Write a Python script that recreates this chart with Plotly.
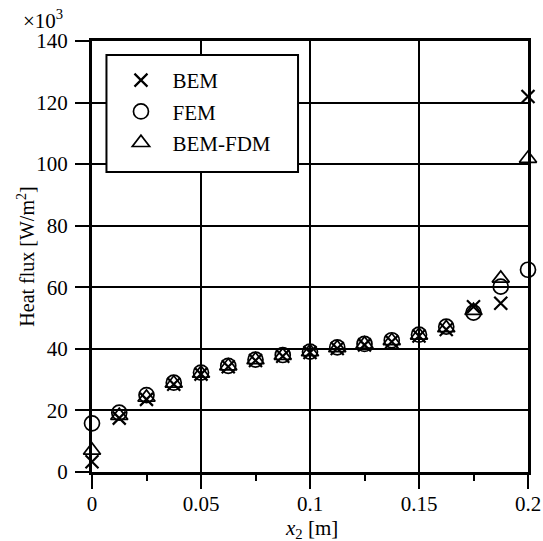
import plotly.graph_objects as go

x_m = [0, 0.0125, 0.025, 0.0375, 0.05, 0.0625, 0.075, 0.0875, 0.1,
       0.1125, 0.125, 0.1375, 0.15, 0.1625, 0.175, 0.1875, 0.2]
bem = [3.3, 17.5, 23.6, 28.5, 31.8, 34.2, 36.2, 37.6, 38.8,
       40.1, 41.3, 42.3, 44.2, 46.3, 53.7, 54.8, 122]
fem = [15.8, 19.3, 25.0, 29.0, 32.3, 34.5, 36.5, 38.0, 39.1,
       40.5, 41.6, 42.8, 44.6, 47.2, 51.8, 60.2, 65.7]
bem_fdm = [7.0, 18.3, 24.2, 28.8, 32.0, 34.4, 36.4, 37.8, 39.0,
           40.3, 41.5, 42.6, 44.4, 46.8, 52.4, 62.9, 101.8]
series_names = ["BEM", "FEM", "BEM-FDM"]
x_ticks = [0, 0.05, 0.1, 0.15, 0.2]
x_tick_text = ["0", "0.05", "0.1", "0.15", "0.2"]
y_ticks = [0, 20, 40, 60, 80, 100, 120, 140]

FONT = "Liberation Serif"
W, H = 543, 541
L, R, T, B = 91.5, 14.5, 41, 69
pw = W - L - R
ph = H - T - B
X_RANGE = [0, 0.2]


def px_x(p):
    return (p - L) / pw


def px_y(p):
    return (H - B - p) / ph


fig = go.Figure()
fig.add_trace(go.Scatter(x=x_m, y=bem, mode="markers", name=series_names[0],
                         cliponaxis=False, legendgroup="a",
                         marker=dict(symbol="x-thin-open", size=13, color="black",
                                     line=dict(width=2.2, color="black"))))
fig.add_trace(go.Scatter(x=x_m, y=fem, mode="markers", name=series_names[1],
                         cliponaxis=False, legendgroup="b",
                         marker=dict(symbol="circle-open", size=15, color="black",
                                     line=dict(width=1.7, color="black"))))
fig.add_trace(go.Scatter(x=x_m, y=bem_fdm, mode="markers", name=series_names[2],
                         cliponaxis=False, legendgroup="c", xaxis="x2",
                         marker=dict(symbol="triangle-up-open", size=15, color="black",
                                     line=dict(width=1.7, color="black"))))

fig.update_layout(
    width=W, height=H,
    margin=dict(l=L, r=R, t=T, b=B, autoexpand=False),
    paper_bgcolor="white", plot_bgcolor="white",
    font=dict(family=FONT, size=21, color="black"),
    showlegend=True,
    legend=dict(x=px_x(109), y=px_y(60), xanchor="left", yanchor="top",
                bgcolor="rgba(0,0,0,0)", borderwidth=0,
                font=dict(family=FONT, size=21, color="black"),
                itemwidth=53, tracegroupgap=1),
    # main x axis: grid, frame, major and minor ticks (no labels)
    xaxis=dict(range=X_RANGE, tickvals=x_ticks, showticklabels=False,
               showgrid=True, gridcolor="black", gridwidth=2,
               showline=True, linecolor="black", linewidth=3, mirror=True,
               ticks="outside", ticklen=14, tickwidth=2, tickcolor="black",
               zeroline=False,
               minor=dict(dtick=0.025, tick0=0, ticks="outside", ticklen=6,
                          tickwidth=2, tickcolor="black", showgrid=False)),
    # overlay x axis: tick labels only
    xaxis2=dict(range=X_RANGE, overlaying="x", side="bottom", anchor="y",
                tickvals=x_ticks, ticktext=x_tick_text,
                showgrid=False, showline=False, zeroline=False,
                ticks="outside", ticklen=13, tickcolor="rgba(0,0,0,0)",
                tickfont=dict(family=FONT, size=21)),
    yaxis=dict(range=[0, 140], tickvals=y_ticks,
               showgrid=True, gridcolor="black", gridwidth=2,
               showline=True, linecolor="black", linewidth=3, mirror=True,
               ticks="outside", ticklen=14, tickwidth=2, tickcolor="black",
               ticklabelstandoff=3,
               zeroline=False,
               tickfont=dict(family=FONT, size=21)),
)

# legend frame
fig.add_shape(type="rect", xref="paper", yref="paper",
              x0=px_x(106), x1=px_x(298), y0=px_y(172), y1=px_y(55),
              fillcolor="white", line=dict(color="black", width=2), layer="above")

fig.add_annotation(text="<i>x</i><sub>2</sub> [m]", xref="paper", yref="paper",
                   x=px_x(312), y=px_y(529), showarrow=False,
                   xanchor="center", yanchor="middle",
                   font=dict(family=FONT, size=21))
fig.add_annotation(text="Heat flux [W/m<sup>2</sup>]", xref="paper", yref="paper",
                   x=px_x(25), y=px_y(257), showarrow=False,
                   textangle=-90, xanchor="center", yanchor="middle",
                   font=dict(family=FONT, size=20))
fig.add_annotation(text="×10<sup>3</sup>", xref="paper", yref="paper",
                   x=px_x(42), y=px_y(19), showarrow=False,
                   xanchor="center", yanchor="middle",
                   font=dict(family=FONT, size=21))

fig.write_html("out.html", config={"displayModeBar": False},
               post_script="document.body.style.margin='0';")
